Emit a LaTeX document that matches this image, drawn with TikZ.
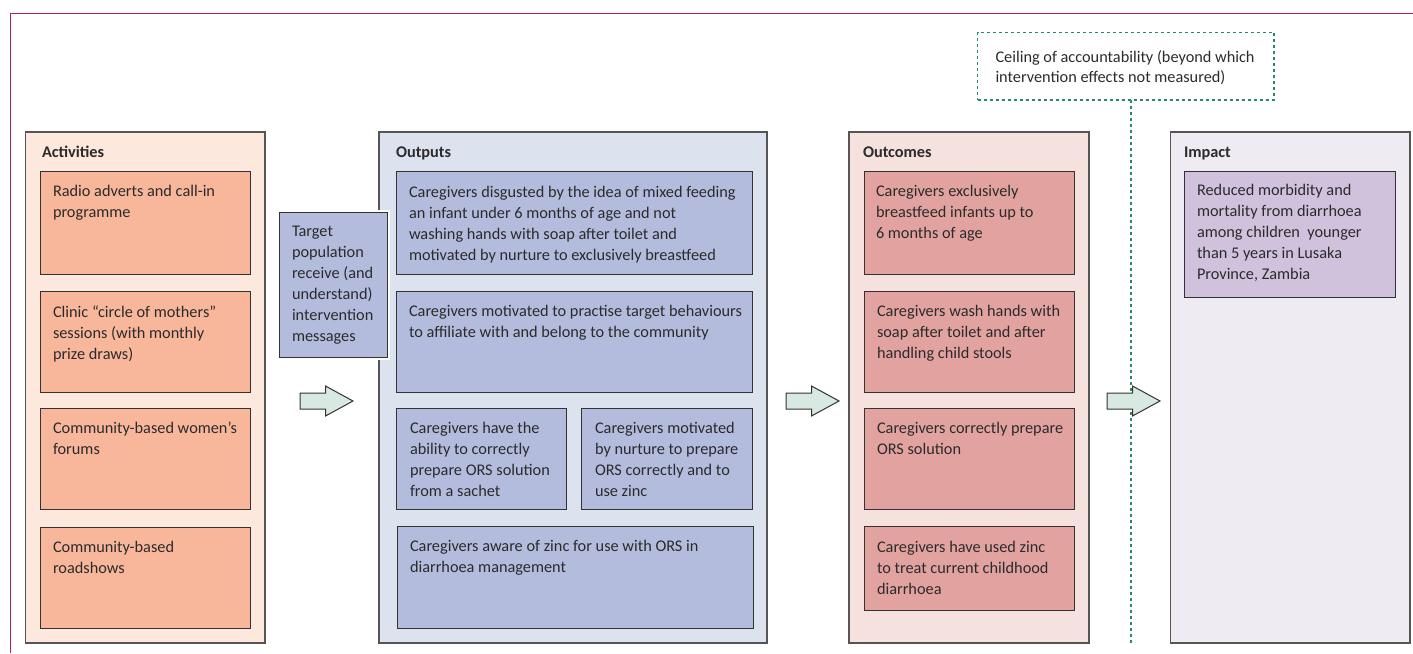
\documentclass[tikz,border=0pt]{standalone}
\usepackage{fontspec}
\setmainfont{Carlito}
\definecolor{framered}{HTML}{C01E48}
\definecolor{actbig}{HTML}{FDE8DD}
\definecolor{actin}{HTML}{F8B79B}
\definecolor{outbig}{HTML}{DDE2EF}
\definecolor{outin}{HTML}{B3BCDD}
\definecolor{ocbig}{HTML}{F5E1DE}
\definecolor{ocin}{HTML}{E2A3A0}
\definecolor{impbig}{HTML}{EFEBF3}
\definecolor{impin}{HTML}{D0C1DD}
\definecolor{arrfill}{HTML}{D8E9E2}
\definecolor{ceilgreen}{HTML}{2A8A5F}
\definecolor{bordgray}{HTML}{555555}
\definecolor{borddark}{HTML}{333333}
\definecolor{txtcol}{HTML}{2B2B2B}
\newcommand{\firststrut}{\rule{0pt}{13pt}}
\begin{document}
\begin{tikzpicture}[x=1pt,y=-1pt,
  bigbox/.style={draw=bordgray, line width=1.2pt, rectangle, anchor=north west, inner sep=0, outer sep=0},
  inbox/.style={draw=borddark, line width=1pt, rectangle, anchor=north west, inner sep=0, outer sep=0},
  txt/.style={anchor=north west, inner sep=0, outer sep=0, align=left, text=txtcol, font=\fontsize{16.3}{21}\selectfont, execute at begin node=\firststrut},
  ttl/.style={anchor=base west, inner sep=0, outer sep=0, text=txtcol, font=\fontsize{16.3}{21}\selectfont\bfseries},
  blockarrow/.style={draw=borddark, fill=arrfill, line width=1pt, line join=miter},
  ceilline/.style={draw=ceilgreen, line width=1.4pt, dash pattern=on 3pt off 3pt}
]
\useasboundingbox (0,0) rectangle (1413,653);
% frame
\coordinate (fr1) at (10.5,13.5);
\coordinate (fr2) at (1413,13.5);
\coordinate (fr3) at (10.5,653);
\draw[framered, line width=1pt] (fr2) -- (fr1) -- (fr3);

% Activities
\node[bigbox, fill=actbig, minimum width=239.5, minimum height=511] (act) at (25.5,132) {};
\node[ttl] (actt) at (42,157) {Activities};
\node[inbox, fill=actin, minimum width=210, minimum height=103] (a1) at (40,171) {};
\node[inbox, fill=actin, minimum width=210, minimum height=101] (a2) at (40,291) {};
\node[inbox, fill=actin, minimum width=210, minimum height=101] (a3) at (40,408) {};
\node[inbox, fill=actin, minimum width=210, minimum height=101] (a4) at (40,527) {};
\node[txt] (a1t) at ([shift={(13,14.5)}]a1.north west) {Radio adverts and call-in\\programme};
\node[txt] (a2t) at ([shift={(13,14.5)}]a2.north west) {Clinic “circle of mothers”\\sessions (with monthly\\prize draws)};
\node[txt] (a3t) at ([shift={(13,14.5)}]a3.north west) {Community-based women’s\\forums};
\node[txt] (a4t) at ([shift={(13,14.5)}]a4.north west) {Community-based\\roadshows};

% Outputs
\node[bigbox, fill=outbig, minimum width=388, minimum height=511] (out) at (379,132) {};
\node[ttl] (outt) at (396,157) {Outputs};
\node[inbox, fill=outin, minimum width=356, minimum height=102.5] (o1) at (396,171.5) {};
\node[inbox, fill=outin, minimum width=356, minimum height=101] (o2) at (396,291) {};
\node[inbox, fill=outin, minimum width=170.5, minimum height=101] (o3) at (396,408) {};
\node[inbox, fill=outin, minimum width=171, minimum height=101] (o4) at (581,408) {};
\node[inbox, fill=outin, minimum width=356, minimum height=102] (o5) at (397,526) {};
\node[txt] (o1t) at ([shift={(13,14.5)}]o1.north west) {Caregivers disgusted by the idea of mixed feeding\\an infant under 6 months of age and not\\washing hands with soap after toilet and\\motivated by nurture to exclusively breastfeed};
\node[txt] (o2t) at ([shift={(13,14.5)}]o2.north west) {Caregivers motivated to practise target behaviours\\to affiliate with and belong to the community};
\node[txt] (o3t) at ([shift={(14,14.5)}]o3.north west) {Caregivers have the\\ability to correctly\\prepare ORS solution\\from a sachet};
\node[txt] (o4t) at ([shift={(14,14.5)}]o4.north west) {Caregivers motivated\\by nurture to prepare\\ORS correctly and to\\use zinc};
\node[txt] (o5t) at ([shift={(13,14.5)}]o5.north west) {Caregivers aware of zinc for use with ORS in\\diarrhoea management};

% Target population (on top of Outputs edge)
\node[inbox, draw=white, line width=5pt, minimum width=108, minimum height=145] (tpw) at (279,212) {};
\node[inbox, fill=outin, minimum width=108, minimum height=145] (tp) at (279,212) {};
\node[txt] (tpt) at ([shift={(13,14.5)}]tp.north west) {Target\\population\\receive (and\\understand)\\intervention\\messages};

% Outcomes
\node[bigbox, fill=ocbig, minimum width=240, minimum height=511] (oc) at (849,132) {};
\node[ttl] (oct) at (863,157) {Outcomes};
\node[inbox, fill=ocin, minimum width=210.5, minimum height=102.5] (b1) at (864,171.5) {};
\node[inbox, fill=ocin, minimum width=210.5, minimum height=101] (b2) at (864,291) {};
\node[inbox, fill=ocin, minimum width=210.5, minimum height=101] (b3) at (864,408) {};
\node[inbox, fill=ocin, minimum width=210.5, minimum height=83.5] (b4) at (864,526.5) {};
\node[txt] (b1t) at ([shift={(12,13.5)}]b1.north west) {Caregivers exclusively\\breastfeed infants up to\\6 months of age};
\node[txt] (b2t) at ([shift={(13,14.5)}]b2.north west) {Caregivers wash hands with\\soap after toilet and after\\handling child stools};
\node[txt] (b3t) at ([shift={(13,14.5)}]b3.north west) {Caregivers correctly prepare\\ORS solution};
\node[txt] (b4t) at ([shift={(13,14.5)}]b4.north west) {Caregivers have used zinc\\to treat current childhood\\diarrhoea};

% Impact
\node[bigbox, fill=impbig, minimum width=239.5, minimum height=511] (imp) at (1170.5,132) {};
\node[ttl] (impt) at (1184,157) {Impact};
\node[inbox, fill=impin, minimum width=211, minimum height=126] (i1) at (1184,171.5) {};
\node[txt] (i1t) at ([shift={(13,13)}]i1.north west) {Reduced morbidity and\\mortality from diarrhoea\\among children\ \ younger\\than 5 years in Lusaka\\Province, Zambia};

% Ceiling of accountability
\node[draw=ceilgreen, line width=1.4pt, dash pattern=on 3pt off 3pt, rectangle, anchor=north west, inner sep=0, outer sep=0, minimum width=296.5, minimum height=67.5] (ceil) at (977.5,32.3) {};
\node[txt, font=\fontsize{16.3}{20}\selectfont] (ceilt) at ([shift={(18,18)}]ceil.north west) {Ceiling of accountability (beyond which\\intervention effects not measured)};
\coordinate (ceilend) at (1131,643);
\draw[ceilline] (ceil.south -| ceilend) -- (ceilend);

% block arrows
\foreach \nm/\xx in {ar1/300, ar2/786, ar3/1107}{
  \coordinate (\nm) at (\xx,401);
  \draw[blockarrow] ([shift={(0,-8)}]\nm) -- ([shift={(25.5,-8)}]\nm) -- ([shift={(25.5,-15)}]\nm) -- ([shift={(53,0)}]\nm) -- ([shift={(25.5,15)}]\nm) -- ([shift={(25.5,8)}]\nm) -- ([shift={(0,8)}]\nm) -- cycle;
}
\end{tikzpicture}
\end{document}
